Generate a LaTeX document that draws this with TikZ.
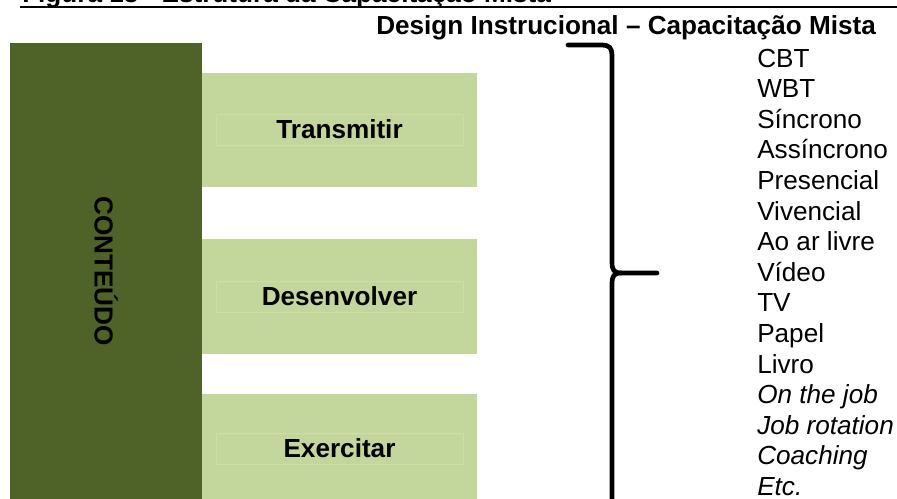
\documentclass[tikz,border=0pt]{standalone}
\usepackage{fontspec}
\setmainfont{Liberation Sans}
\usepackage{tikz}

\definecolor{verdeescuro}{HTML}{4F6228}
\definecolor{verdeclaro}{HTML}{C3D69B}
\definecolor{verdefraco}{HTML}{CDDDAA}

\begin{document}
\begin{tikzpicture}[
    x=0.75pt,y=-0.75pt,
    txt/.style={font=\fontsize{19.6pt}{22.95pt}\selectfont},
    negrito/.style={font=\fontsize{19.6pt}{22.95pt}\selectfont\bfseries},
    bloco/.style={fill=verdeclaro,inner sep=0pt,minimum width=206.25pt,minimum height=85.5pt},
    rotulo/.style={negrito,draw=verdefraco,line width=.4pt,inner sep=0pt,minimum width=185.25pt,minimum height=23.25pt},
    chave/.style={line width=3.5pt,line cap=round}
    ]
    \clip (0, 0) rectangle (897, 499);
    % titulo da figura, cortado em cima
    \node[negrito,anchor=base west,inner sep=0pt] (figura) at (22, 3) {Figura 13 - Estrutura da Capacita\c{c}\~ao Mista};
    \draw[line width=1.5pt] (20, 7) -- (897, 7);
    \node[negrito,anchor=base west,inner sep=0pt] (design) at (376, 35) {Design Instrucional -- Capacita\c{c}\~ao Mista};
    % coluna do conteudo
    \node[negrito,fill=verdeescuro,rotate=-90,inner sep=0pt,minimum width=342pt,minimum height=144pt] (conteudo) at (106, 271) {CONTE\'UDO};
    % etapas
    \node[bloco] (b1) at (339.5, 130) {};
    \node[bloco] (b2) at (339.5, 296.5) {};
    \node[bloco] (b3) at (339.5, 451) {};
    \node[rotulo] (transmitir) at (339.5, 129.5) {Transmitir};
    \node[rotulo] (desenvolver) at (339.5, 296.5) {Desenvolver};
    \node[rotulo] (exercitar) at (339.5, 448.5) {Exercitar};
    % chave
    \coordinate (ponta) at (657, 273);
    \draw[chave] (568, 45) -- (602, 45) .. controls (609, 45) and (612, 48) .. (612, 55)
      -- (612, 262) .. controls (612, 270) and (614, 273) .. (621, 273) -- (ponta);
    \draw[chave] (621, 273) .. controls (614, 273) and (612, 276) .. (612, 284) -- (612, 510);
    % midias (base = ultima linha)
    \node[txt,anchor=base west,align=left,inner sep=0pt] (midias) at (757, 495.5) {CBT\\WBT\\S\'incrono\\Ass\'incrono\\Presencial\\Vivencial\\Ao ar livre\\V\'ideo\\TV\\Papel\\Livro\\\textit{On the job}\\\textit{Job rotation}\\\textit{Coaching}\\\textit{Etc.}};
\end{tikzpicture}
\end{document}
